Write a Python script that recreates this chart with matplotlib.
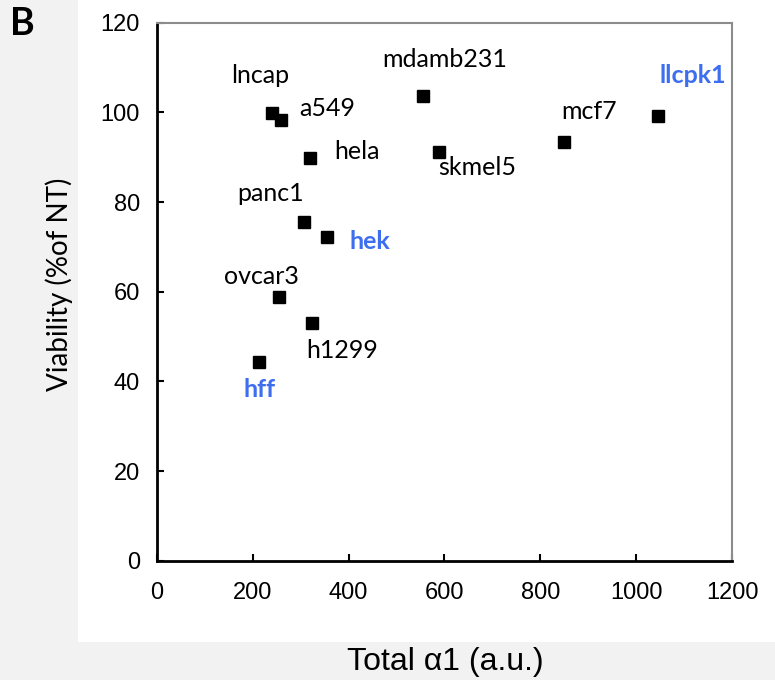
import numpy as np
import matplotlib.pyplot as plt
from matplotlib.patches import Rectangle

# data
cells = ['lncap', 'a549', 'hela', 'panc1', 'hek', 'ovcar3', 'h1299', 'hff',
         'mdamb231', 'skmel5', 'mcf7', 'llcpk1']
total_a1 = [240, 260, 320, 308, 354, 256, 324, 214, 555, 588, 849, 1046]
viability = [99.8, 98.3, 89.8, 75.6, 72.3, 58.8, 53.0, 44.3, 103.7, 91.1, 93.5, 99.3]
normal_cells = ['hek', 'hff', 'llcpk1']

# label offsets (points) relative to each marker
offsets = {
    'lncap': (-8.6, 27), 'a549': (33, 8), 'hela': (34, 5), 'panc1': (-24.7, 20.7),
    'hek': (31, -3.5), 'ovcar3': (-12.7, 15), 'h1299': (21.4, -19.8), 'hff': (0, -19.4),
    'mdamb231': (15.5, 26), 'skmel5': (28, -11.3), 'mcf7': (17.8, 21.7), 'llcpk1': (25, 29),
}

blue = '#3d6ef0'
gray_bg = '#f2f2f2'

fig = plt.figure(figsize=(7.75, 6.8), dpi=100, facecolor=gray_bg)
fig.patches.append(Rectangle((78 / 775, 1 - 642 / 680), 1 - 78 / 775, 642 / 680,
                             transform=fig.transFigure, facecolor='white',
                             edgecolor='none', zorder=-5))

ax = fig.add_axes([156.7 / 775, 1 - 560.7 / 680, (732.3 - 156.7) / 775, (560.7 - 22.7) / 680])
ax.set_facecolor('white')

ax.plot(total_a1, viability, 's', color='black', markersize=9, linestyle='none')

for name, x, y in zip(cells, total_a1, viability):
    dx, dy = offsets[name]
    if name in normal_cells:
        kw = dict(color=blue, fontweight='bold')
    else:
        kw = dict(color='black')
    ax.annotate(name, (x, y), xytext=(dx, dy), textcoords='offset points',
                ha='center', va='center', fontsize=18, family='Lato', **kw)

ax.set_xlim(0, 1200)
ax.set_ylim(0, 120)
ax.set_xticks(np.arange(0, 1201, 200))
ax.set_yticks(np.arange(0, 121, 20))

for s in ['left', 'bottom']:
    ax.spines[s].set_color('black')
    ax.spines[s].set_linewidth(2)
for s in ['top', 'right']:
    ax.spines[s].set_color('#8c8c8c')
    ax.spines[s].set_linewidth(1.5)

ax.tick_params(axis='both', direction='in', length=5, width=1.5, color='black',
               labelsize=17)
ax.tick_params(axis='x', pad=15)
ax.tick_params(axis='y', pad=12)
for lab in ax.get_xticklabels() + ax.get_yticklabels():
    lab.set_family('Liberation Sans')

fig.text(59 / 775, 1 - 284 / 680, 'Viability (%of NT)', rotation=90, ha='center',
         va='center', fontsize=20, family='Lato')
fig.text(445 / 775, 1 - 662 / 680, 'Total α1 (a.u.)', ha='center', va='center',
         fontsize=23, family='Liberation Sans')
fig.text(22.5 / 775, 1 - 24 / 680, 'B', ha='center', va='center', fontsize=27,
         fontweight='bold', family='Lato')

fig.savefig('out.png', dpi=100, facecolor=gray_bg)
